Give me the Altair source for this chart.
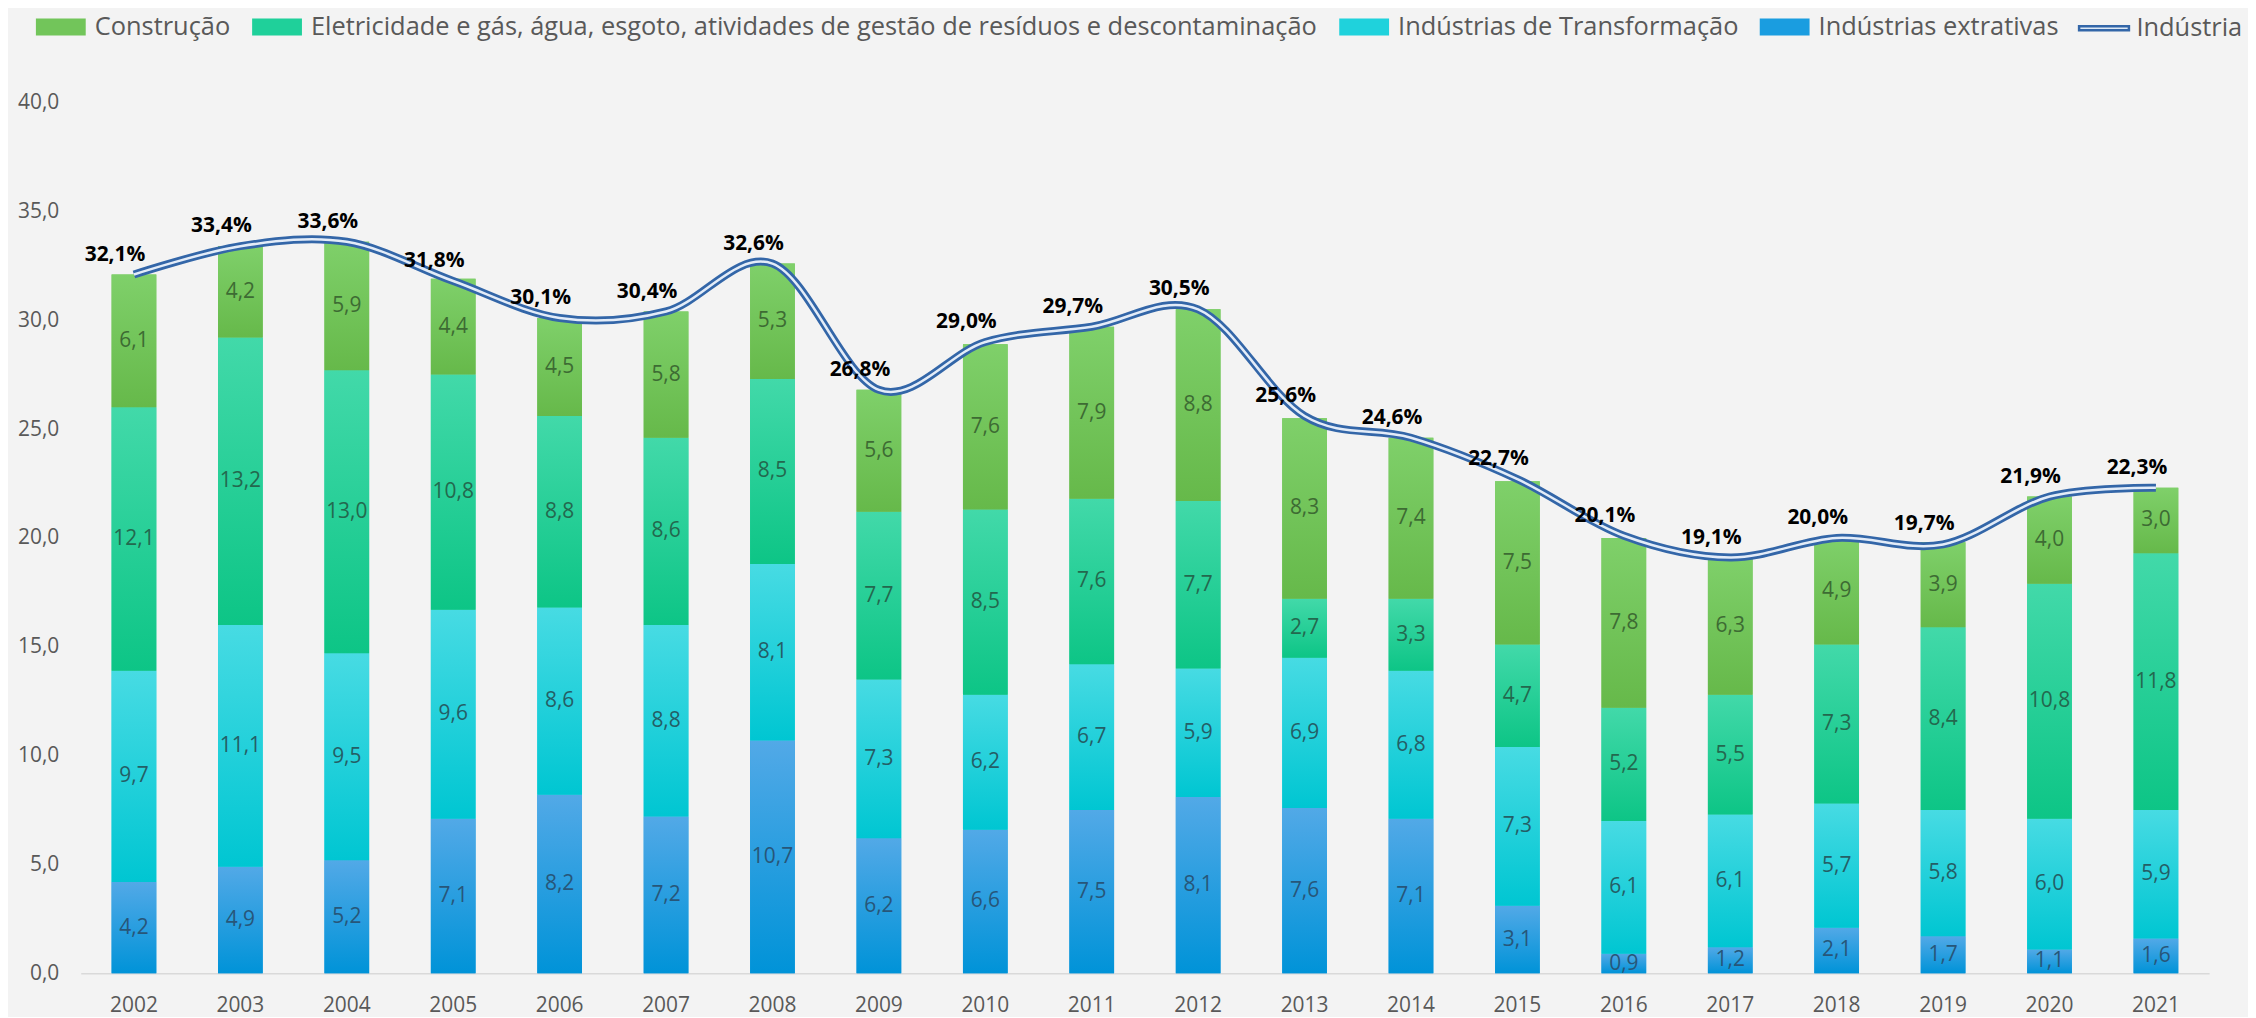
import altair as alt
import pandas as pd

# ---------------- data ----------------
years = list(range(2002, 2022))
extrativas = [4.2, 4.9, 5.2, 7.1, 8.2, 7.2, 10.7, 6.2, 6.6, 7.5, 8.1, 7.6, 7.1, 3.1, 0.9, 1.2, 2.1, 1.7, 1.1, 1.6]
transformacao = [9.7, 11.1, 9.5, 9.6, 8.6, 8.8, 8.1, 7.3, 6.2, 6.7, 5.9, 6.9, 6.8, 7.3, 6.1, 6.1, 5.7, 5.8, 6.0, 5.9]
eletricidade = [12.1, 13.2, 13.0, 10.8, 8.8, 8.6, 8.5, 7.7, 8.5, 7.6, 7.7, 2.7, 3.3, 4.7, 5.2, 5.5, 7.3, 8.4, 10.8, 11.8]
construcao = [6.1, 4.2, 5.9, 4.4, 4.5, 5.8, 5.3, 5.6, 7.6, 7.9, 8.8, 8.3, 7.4, 7.5, 7.8, 6.3, 4.9, 3.9, 4.0, 3.0]
industria = [32.1, 33.4, 33.6, 31.8, 30.1, 30.4, 32.6, 26.8, 29.0, 29.7, 30.5, 25.6, 24.6, 22.7, 20.1, 19.1, 20.0, 19.7, 21.9, 22.3]

S_CON = "Construção"
S_ELE = "Eletricidade e gás, água, esgoto, atividades de gestão de resíduos e descontaminação"
S_TRA = "Indústrias de Transformação"
S_EXT = "Indústrias extrativas"
S_IND = "Indústria"

legend_order = [S_CON, S_ELE, S_TRA, S_EXT]
legend_colors = ["#72c55a", "#1fd09a", "#1fd2dc", "#1a9de0"]

# stacking order bottom -> top
stack_series = [(S_EXT, extrativas), (S_TRA, transformacao), (S_ELE, eletricidade), (S_CON, construcao)]

# per-series styling: gradient (top, bottom) and label colour
styles = {
    S_CON: ("#7fd06a", "#66b94a", "#3d6b33"),
    S_ELE: ("#42d9a9", "#0dc586", "#23684e"),
    S_TRA: ("#47dbe3", "#00c6d2", "#245e66"),
    S_EXT: ("#52a9e7", "#0093d8", "#275679"),
}

rows = []
for i, yr in enumerate(years):
    for order, (name, vals) in enumerate(stack_series):
        rows.append({"ano": yr, "serie": name, "ordem": order, "valor": vals[i]})
df = pd.DataFrame(rows)
tot = pd.DataFrame({"ano": years, "total": industria, "serie": [S_IND] * len(years)})

FONT = "Open Sans"
GRAY = "#595959"

x_enc = alt.X(
    "ano:O",
    scale=alt.Scale(paddingInner=0.58, paddingOuter=0.29),
    axis=alt.Axis(title=None, labelAngle=0, ticks=False, domainColor="#d9d9d9", domainWidth=1.5,
                  labelFont=FONT, labelFontSize=21, labelColor=GRAY, labelPadding=21),
)
y_scale = alt.Scale(domain=[0, 40], nice=False, zero=True)
y_axis = alt.Axis(title=None, values=[0, 5, 10, 15, 20, 25, 30, 35, 40], grid=False, ticks=False, domain=False,
                  labelFont=FONT, labelFontSize=21, labelColor=GRAY, labelPadding=22,
                  labelExpr="replace(format(datum.value, '.1f'), '.', ',')")

bar_legend = alt.Legend(
    title=None, orient="none", legendX=-45, legendY=-101, direction="horizontal",
    labelFont=FONT, labelFontSize=25.5, labelColor=GRAY, labelLimit=3000,
    symbolSize=2500, symbolType="M-1,-0.34H1V0.34H-1Z", symbolStrokeWidth=0,
    columnPadding=21, labelOffset=9, padding=0,
)
line_legend = alt.Legend(
    title=None, orient="none", legendX=2004, legendY=-101, direction="horizontal",
    labelFont=FONT, labelFontSize=25.5, labelColor=GRAY, labelLimit=3000,
    symbolSize=2500, symbolType="M-1,-0.08H1V0.08H-1Z", symbolStrokeWidth=2.5,
    symbolFillColor="#dde9f6", labelOffset=6, padding=0,
)

stacked = alt.Chart(df).transform_stack(
    stack="valor", groupby=["ano"], sort=[alt.SortField("ordem", order="ascending")], as_=["y0", "y1"]
).transform_calculate(
    mid="(datum.y0 + datum.y1) / 2",
    rotulo="replace(format(datum.valor, '.1f'), '.', ',')",
)

base_bars = stacked.mark_bar().encode(
    x=x_enc,
    y=alt.Y("y0:Q", scale=y_scale, axis=y_axis),
    y2="y1:Q",
    color=alt.Color("serie:N", scale=alt.Scale(domain=legend_order, range=legend_colors), legend=bar_legend),
)

layers = [base_bars]
for name, _ in stack_series:
    top, bottom, _lc = styles[name]
    grad = alt.LinearGradient(
        gradient="linear", x1=0, x2=0, y1=0, y2=1,
        stops=[alt.GradientStop(color=top, offset=0), alt.GradientStop(color=bottom, offset=1)],
    )
    layers.append(
        stacked.transform_filter(alt.datum.serie == name).mark_bar(color=grad).encode(
            x=x_enc, y=alt.Y("y0:Q", scale=y_scale, axis=y_axis), y2="y1:Q"
        )
    )
for name, _ in stack_series:
    _t, _b, lc = styles[name]
    layers.append(
        stacked.transform_filter(alt.datum.serie == name).mark_text(
            font=FONT, fontSize=21, color=lc, baseline="middle"
        ).encode(x=x_enc, y=alt.Y("mid:Q", scale=y_scale, axis=y_axis), text="rotulo:N")
    )

line_outer = alt.Chart(tot).mark_line(interpolate="cardinal", strokeWidth=8).encode(
    x=x_enc, y=alt.Y("total:Q", scale=y_scale, axis=y_axis),
    stroke=alt.Stroke("serie:N", scale=alt.Scale(domain=[S_IND], range=["#3366a8"]), legend=line_legend),
)
line_inner = alt.Chart(tot).mark_line(interpolate="cardinal", strokeWidth=2.5, color="#e3ecf8").encode(
    x=x_enc, y=alt.Y("total:Q", scale=y_scale, axis=y_axis)
)
tot_text = alt.Chart(tot).transform_calculate(
    rot="replace(format(datum.total, '.1f'), '.', ',') + '%'"
).mark_text(font=FONT, fontSize=21, fontWeight="bold", color="#000000", dx=-19, dy=-20, baseline="middle").encode(
    x=x_enc, y=alt.Y("total:Q", scale=y_scale, axis=y_axis), text="rot:N"
)

layers += [line_outer, line_inner, tot_text]

chart = alt.layer(*layers).properties(
    width=2136, height=874,
    padding={"left": 73, "top": 93, "right": 39, "bottom": 42},
    autosize=alt.AutoSizeParams(type="none"),
).configure(background="#f3f3f3").configure_view(stroke=None)

chart.save("out.html", embed_options={"renderer": "svg", "actions": False})
